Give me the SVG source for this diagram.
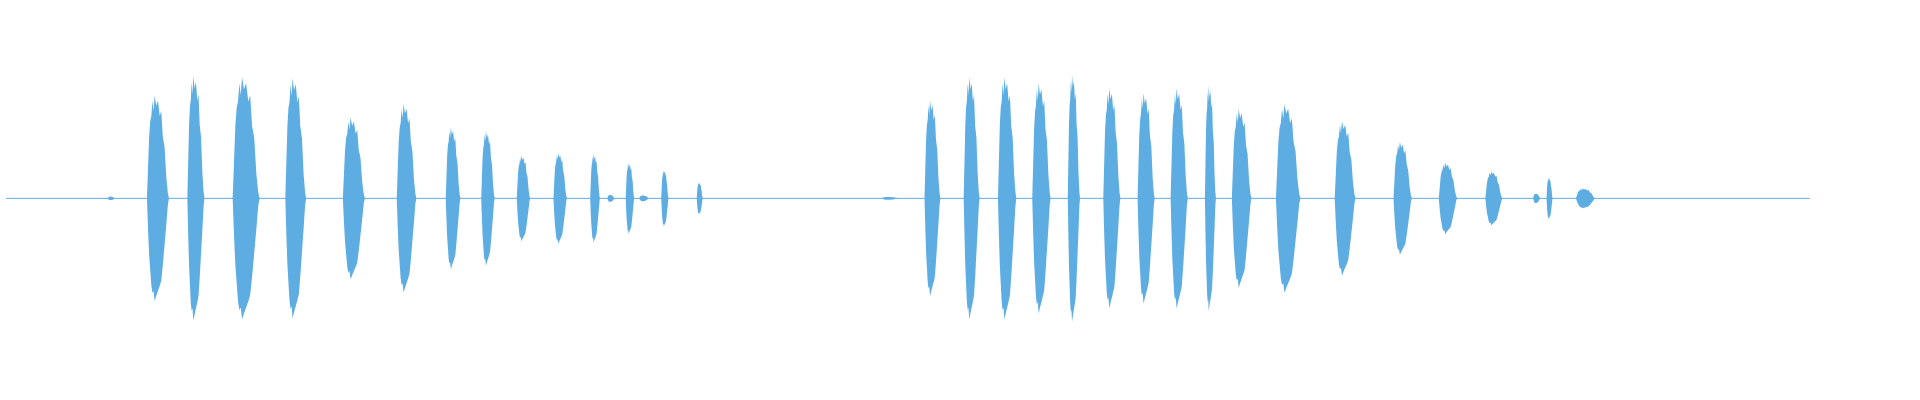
<svg xmlns="http://www.w3.org/2000/svg" width="1920" height="400" viewBox="0 0 1920 400">
<defs>
<path id="b" d="M0,0 L0.05,-0.3 L0.1,-0.6 L0.15,-0.75 L0.2,-0.8 L0.25,-0.95 L0.3,-0.85 L0.35,-1 L0.42,-0.9 L0.5,-0.95 L0.58,-0.8 L0.65,-0.85 L0.72,-0.6 L0.8,-0.5 L0.88,-0.2 L0.95,-0.05 L1,0 L0.95,0.06 L0.88,0.25 L0.8,0.45 L0.72,0.65 L0.65,0.8 L0.58,0.85 L0.5,0.9 L0.42,0.95 L0.35,1 L0.3,0.9 L0.25,0.92 L0.2,0.85 L0.15,0.7 L0.1,0.55 L0.05,0.3 Z"/>
</defs>
<style>use{fill:#5DADE2}</style>
<rect width="1920" height="400" fill="#fff"/>
<g transform="scale(1.2245)">
<line x1="5" y1="162" x2="1478" y2="162" stroke="#5DADE2" stroke-width="0.8"/>
<use href="#b" transform="translate(88,162) scale(6,1.5)"/>
<use href="#b" transform="translate(120,162) scale(18,84)"/>
<use href="#b" transform="translate(153,162) scale(14,100)"/>
<use href="#b" transform="translate(190,162) scale(22,99)"/>
<use href="#b" transform="translate(233,162) scale(17,98)"/>
<use href="#b" transform="translate(280,162) scale(18,66)"/>
<use href="#b" transform="translate(324,162) scale(16,77)"/>
<use href="#b" transform="translate(364,162) scale(12,58)"/>
<use href="#b" transform="translate(393,162) scale(11,55)"/>
<use href="#b" transform="translate(422,162) scale(11,35)"/>
<use href="#b" transform="translate(452,162) scale(11,37)"/>
<use href="#b" transform="translate(482,162) scale(8,36)"/>
<use href="#b" transform="translate(496,162) scale(6,3)"/>
<use href="#b" transform="translate(511,162) scale(7,29)"/>
<use href="#b" transform="translate(522,162) scale(8,2.5)"/>
<use href="#b" transform="translate(540,162) scale(6,23)"/>
<use href="#b" transform="translate(569,162) scale(5,13)"/>
<use href="#b" transform="translate(720,162) scale(14,1.2)"/>
<use href="#b" transform="translate(755,162) scale(13,80)"/>
<use href="#b" transform="translate(787,162) scale(13,99)"/>
<use href="#b" transform="translate(815,162) scale(15,99)"/>
<use href="#b" transform="translate(843,162) scale(15,94)"/>
<use href="#b" transform="translate(872,162) scale(10,101)"/>
<use href="#b" transform="translate(901,162) scale(14,90)"/>
<use href="#b" transform="translate(929,162) scale(14,86)"/>
<use href="#b" transform="translate(956,162) scale(14,90)"/>
<use href="#b" transform="translate(984,162) scale(9,92)"/>
<use href="#b" transform="translate(1006,162) scale(16,73)"/>
<use href="#b" transform="translate(1042,162) scale(20,77)"/>
<use href="#b" transform="translate(1090,162) scale(17,63)"/>
<use href="#b" transform="translate(1138,162) scale(15,46)"/>
<use href="#b" transform="translate(1175,162) scale(15,29)"/>
<use href="#b" transform="translate(1213,162) scale(14,22)"/>
<use href="#b" transform="translate(1252,162) scale(6,4)"/>
<use href="#b" transform="translate(1263,162) scale(5,17)"/>
<use href="#b" transform="translate(1287,162) scale(16,8)"/>
</g>
</svg>
